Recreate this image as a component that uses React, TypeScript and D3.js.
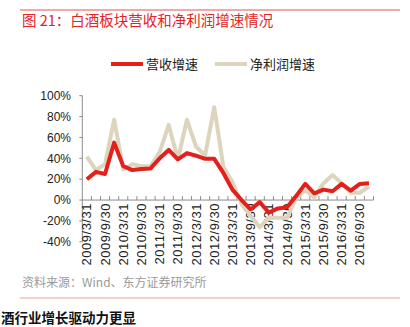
import React from "react";
import * as d3 from "d3";

const categories: string[] = [];
for (let y = 2009; y <= 2016; y++) {
  for (const q of ["3/31", "6/30", "9/30", "12/31"]) categories.push(`${y}/${q}`);
}
const revenueGrowth = [20, 27, 25, 55, 32.5, 28.7, 29.7, 30.3, 40, 48, 39, 45, 42.5, 39.5, 39.5, 26, 10, 0, -9, -2, -12, -8, -7, 4, 15.5, 6.5, 10, 8.5, 15.5, 9, 15.5, 16];
const profitGrowth = [41.5, 28.7, 34.4, 77, 29.4, 34.4, 32.5, 32.5, 46, 72, 39, 77, 51, 43, 89, 32, 17, -4, -15, -26, -17, -17, -17, 2, 9.5, 2.5, 16, 24, 16, 7, 7, 13];
const yTicks = [100, 80, 60, 40, 20, 0, -20, -40];
const seriesNames = ["营收增速", "净利润增速"];
const seriesColors = ["#e3201b", "#ddd4bd"];

const FONT = '"Liberation Sans", Arial, "Noto Sans CJK SC", sans-serif';

export default function App() {
  const W = 410, H = 327;
  const x0 = 82.3, x1 = 373.5;
  const x = d3.scaleBand<string>().domain(categories).range([x0, x1]);
  const y = d3.scaleLinear().domain([-40, 100]).range([241.8, 95.7]);
  const line = d3.line<number>()
    .x((_, i) => (x(categories[i]) as number) + x.bandwidth() / 2)
    .y((d) => y(d));
  const axisColor = "#8c8c8c";
  const labelCats = categories.filter((_, i) => i % 2 === 0);
  return (
    <svg width={W} height={H} style={{ position: "absolute", left: 0, top: 0, background: "#fff" }} fontFamily={FONT}>
      <line x1={20} x2={400} y1={10} y2={10} stroke="#ef8a8a" strokeWidth={1.3} />
      <text x={22} y={26} fill="#e32424" fontSize={14.5} fontFamily='"Noto Sans CJK SC", sans-serif'>图 21：白酒板块营收和净利润增速情况</text>
      {/* legend */}
      {seriesNames.map((n, i) => {
        const lx = i === 0 ? 111 : 215;
        return (
          <g key={n}>
            <line x1={lx} x2={lx + 32} y1={64} y2={64} stroke={seriesColors[i]} strokeWidth={4} />
            <text x={lx + 35} y={68.5} fontSize={13} fill="#222" fontFamily='"Noto Sans CJK SC", sans-serif'>{n}</text>
          </g>
        );
      })}
      {/* y axis */}
      <line x1={x0} x2={x0} y1={y(100)} y2={y(-40)} stroke={axisColor} strokeWidth={1} />
      {yTicks.map((t) => (
        <g key={t}>
          <line x1={x0 - 3} x2={x0} y1={y(t)} y2={y(t)} stroke={axisColor} />
          <text x={71} y={y(t)} dy="0.35em" textAnchor="end" fontSize={12} fill="#222">{t}%</text>
        </g>
      ))}
      {/* x axis */}
      <line x1={x0} x2={x1} y1={y(0)} y2={y(0)} stroke={axisColor} />
      {categories.map((c) => (
        <line key={c} x1={(x(c) as number) + x.bandwidth()} x2={(x(c) as number) + x.bandwidth()} y1={y(0) - 4} y2={y(0)} stroke={axisColor} />
      ))}
      {labelCats.map((c) => {
        const cx = (x(c) as number) + x.bandwidth() / 2;
        return (
          <text key={c} transform={`translate(${cx},${y(0) + 3}) rotate(-90)`} textAnchor="end" dy="0.35em" fontSize={13} letterSpacing={0.5} fill="#222">{c}</text>
        );
      })}
      <path d={line(profitGrowth) || ""} fill="none" stroke={seriesColors[1]} strokeWidth={4} strokeLinejoin="round" />
      <path d={line(revenueGrowth) || ""} fill="none" stroke={seriesColors[0]} strokeWidth={4} strokeLinejoin="round" />
      {/* footer */}
      <text x={22} y={287} fontSize={12} fill="#9a9a9a" fontFamily='"Noto Sans CJK SC", sans-serif'>资料来源：Wind、东方证券研究所</text>
      <line x1={20} x2={400} y1={298} y2={298} stroke="#e9a09a" strokeWidth={1} />
      <text x={1} y={323} fontSize={13.5} fontWeight="bold" fill="#111" fontFamily='"Noto Sans CJK SC", sans-serif'>酒行业增长驱动力更显</text>
    </svg>
  );
}
